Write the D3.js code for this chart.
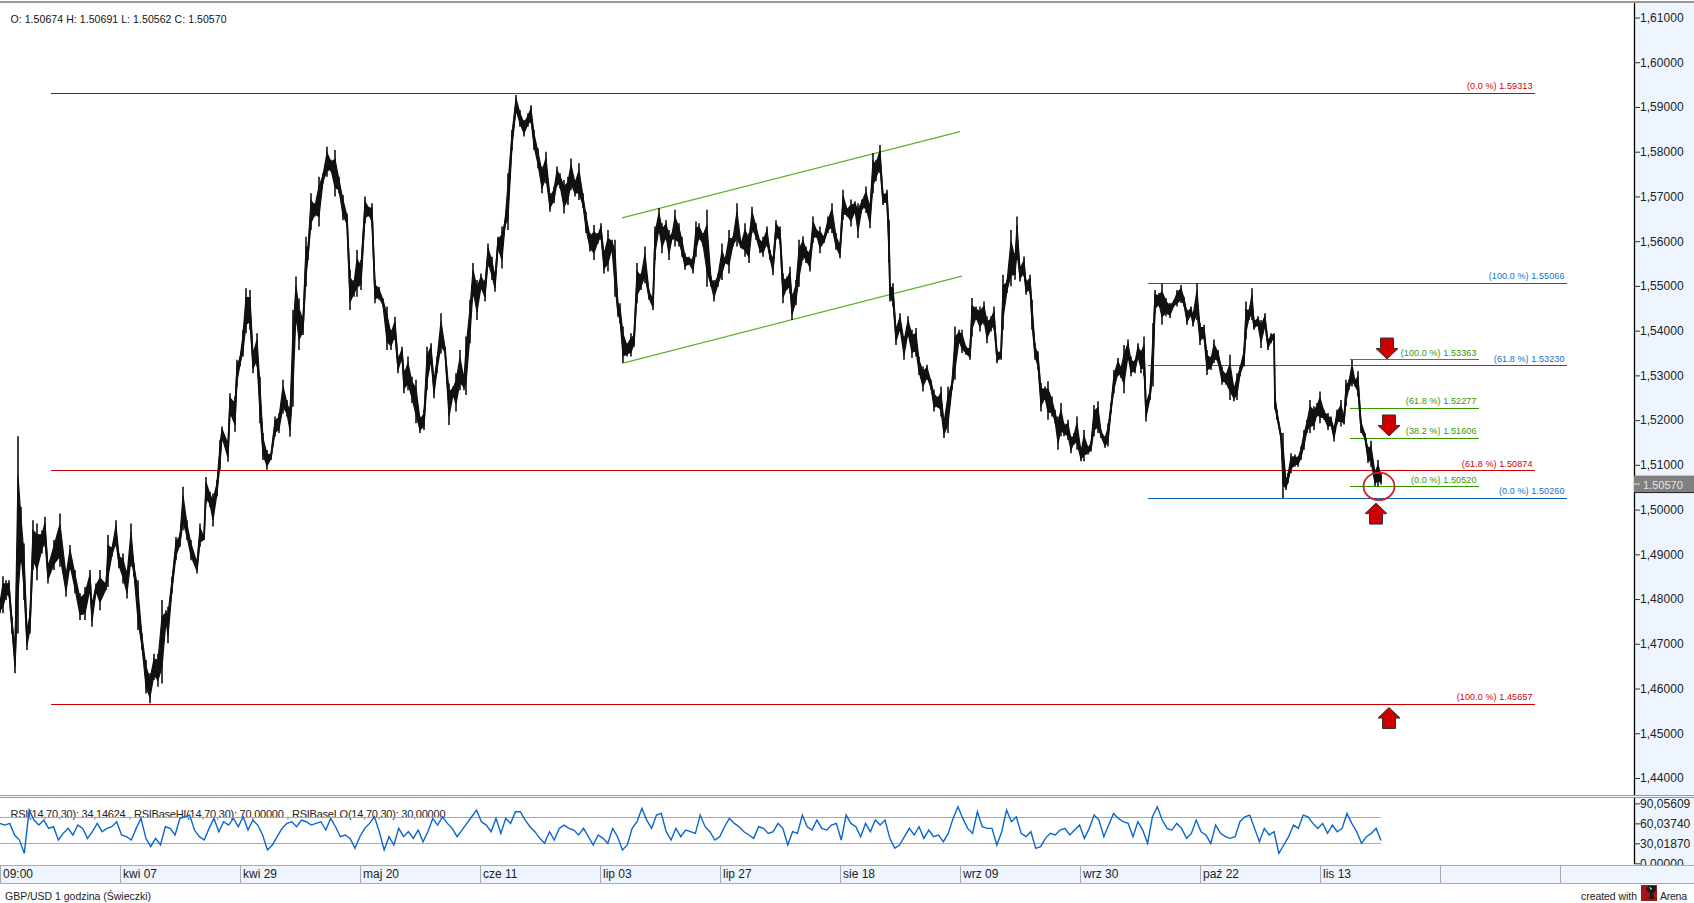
<!DOCTYPE html>
<html><head><meta charset="utf-8">
<script src="https://cdn.jsdelivr.net/npm/d3@7/dist/d3.min.js"></script>
<style>html,body{margin:0;padding:0;background:#fff;overflow:hidden}svg{display:block}text{font-family:"Liberation Sans",Arial,sans-serif}</style>
</head><body><svg id="c" width="1694" height="903"></svg>
<script>
// [bar number, high, low]
const barsMarApr = [[0,1.4798,1.4768],[6,1.4851,1.4768],[12,1.4842,1.4798],[18,1.4842,1.4805],[24,1.4760,1.4723],[30,1.4701,1.4634],[36,1.5164,1.4723],[42,1.5006,1.4880],[48,1.4924,1.4798],[54,1.4738,1.4686],[60,1.4775,1.4723],[66,1.4976,1.4865],[74,1.4969,1.4842],[84,1.4954,1.4902],[90,1.4984,1.4917],[96,1.4880,1.4835],[108,1.4932,1.4865],[120,1.4991,1.4872],[132,1.4865,1.4805],[140,1.4921,1.4865],[150,1.4865,1.4813],[160,1.4813,1.4753],[170,1.4827,1.4753],[180,1.4865,1.4813],[184,1.4798,1.4738],[192,1.4835,1.4813],[200,1.4865,1.4775],[212,1.4835,1.4820],[216,1.4943,1.4827],[224,1.4917,1.4895],[232,1.4976,1.4917],[238,1.4902,1.4869],[246,1.4902,1.4835],[254,1.4865,1.4801],[262,1.4969,1.4872],[268,1.4880,1.4850],[276,1.4842,1.4731],[284,1.4723,1.4686],[292,1.4664,1.4589],[300,1.4634,1.4567],[308,1.4678,1.4619],[316,1.4678,1.4604],[324,1.4798,1.4611],[332,1.4775,1.4746],[336,1.4783,1.4701],[344,1.4850,1.4813],[352,1.4939,1.4887],[360,1.4947,1.4917],[366,1.5051,1.4954],[374,1.4976,1.4932],[382,1.4932,1.4887],[394,1.4887,1.4857],[400,1.4969,1.4917],[408,1.4939,1.4932],[412,1.5073,1.5014],[420,1.5040,1.5006],[426,1.5036,1.4962],[434,1.5066,1.5029]];
const barsAprJun = [[440,1.5156,1.5089],[444,1.5186,1.5156],[456,1.5156,1.5107],[460,1.5260,1.5208],[470,1.5253,1.5174],[474,1.5335,1.5275],[480,1.5342,1.5320],[486,1.5402,1.5342],[492,1.5495,1.5394],[500,1.5491,1.5402],[506,1.5357,1.5305],[514,1.5394,1.5320],[520,1.5297,1.5193],[526,1.5171,1.5111],[534,1.5133,1.5089],[542,1.5126,1.5111],[550,1.5208,1.5163],[558,1.5215,1.5171],[566,1.5290,1.5215],[574,1.5245,1.5208],[580,1.5230,1.5163],[586,1.5446,1.5230],[592,1.5521,1.5416],[598,1.5472,1.5357],[606,1.5431,1.5390],[612,1.5610,1.5498],[616,1.5588,1.5558],[622,1.5707,1.5625],[630,1.5685,1.5655],[638,1.5744,1.5633],[646,1.5752,1.5729],[654,1.5811,1.5744],[662,1.5782,1.5755],[670,1.5804,1.5700],[678,1.5744,1.5707],[686,1.5703,1.5647],[694,1.5662,1.5633],[700,1.5536,1.5446],[708,1.5513,1.5476],[714,1.5580,1.5476],[722,1.5558,1.5491],[730,1.5700,1.5640],[738,1.5677,1.5655],[744,1.5685,1.5633],[750,1.5513,1.5461],[758,1.5498,1.5469],[766,1.5472,1.5454],[774,1.5454,1.5357],[782,1.5402,1.5357],[790,1.5431,1.5379],[796,1.5342,1.5305],[804,1.5364,1.5335],[808,1.5312,1.5260],[816,1.5342,1.5267],[824,1.5297,1.5238],[832,1.5290,1.5193],[840,1.5208,1.5171],[848,1.5223,1.5178],[854,1.5364,1.5267],[862,1.5372,1.5327],[868,1.5297,1.5249],[874,1.5342,1.5305],[882,1.5439,1.5349],[890,1.5364,1.5349],[898,1.5282,1.5189],[906,1.5275,1.5253],[912,1.5305,1.5219],[920,1.5357,1.5267],[928,1.5297,1.5267],[932,1.5387,1.5256],[940,1.5469,1.5372],[946,1.5551,1.5476],[954,1.5513,1.5424],[962,1.5528,1.5491],[970,1.5513,1.5465],[976,1.5595,1.5543],[984,1.5565,1.5513],[990,1.5528,1.5487],[996,1.5610,1.5580],[1004,1.5633,1.5539],[1010,1.5647,1.5633],[1016,1.5752,1.5625]];
const barsJunAug = [[1024,1.5849,1.5804],[1032,1.5927,1.5886],[1040,1.5893,1.5856],[1048,1.5871,1.5834],[1056,1.5886,1.5856],[1062,1.5904,1.5863],[1068,1.5849,1.5804],[1076,1.5808,1.5763],[1084,1.5767,1.5707],[1092,1.5800,1.5729],[1100,1.5707,1.5666],[1108,1.5722,1.5685],[1114,1.5767,1.5722],[1120,1.5752,1.5718],[1128,1.5737,1.5662],[1136,1.5744,1.5681],[1142,1.5785,1.5714],[1150,1.5737,1.5700],[1158,1.5774,1.5692],[1166,1.5707,1.5674],[1172,1.5666,1.5618],[1180,1.5618,1.5577],[1188,1.5636,1.5558],[1196,1.5618,1.5595],[1202,1.5640,1.5603],[1208,1.5580,1.5528],[1216,1.5625,1.5532],[1224,1.5603,1.5580],[1230,1.5603,1.5476],[1236,1.5461,1.5431],[1240,1.5461,1.5416],[1246,1.5409,1.5327],[1254,1.5372,1.5342],[1262,1.5394,1.5342],[1268,1.5394,1.5364],[1274,1.5551,1.5461],[1282,1.5528,1.5491],[1290,1.5588,1.5506],[1298,1.5491,1.5469],[1306,1.5476,1.5446],[1310,1.5633,1.5558],[1318,1.5674,1.5618],[1324,1.5640,1.5573],[1332,1.5647,1.5603],[1338,1.5625,1.5558],[1344,1.5618,1.5603],[1350,1.5670,1.5588],[1358,1.5640,1.5588],[1364,1.5610,1.5565],[1370,1.5573,1.5536],[1378,1.5565,1.5547],[1386,1.5565,1.5528],[1392,1.5644,1.5565],[1398,1.5640,1.5603],[1406,1.5618,1.5588],[1414,1.5670,1.5498],[1422,1.5521,1.5498],[1428,1.5513,1.5465],[1436,1.5528,1.5498],[1444,1.5595,1.5513],[1450,1.5558,1.5551],[1458,1.5625,1.5528],[1466,1.5610,1.5588],[1474,1.5685,1.5588],[1482,1.5595,1.5584],[1490,1.5640,1.5565],[1498,1.5618,1.5551],[1504,1.5677,1.5618],[1512,1.5640,1.5603],[1520,1.5603,1.5573],[1526,1.5610,1.5565],[1534,1.5633,1.5588],[1540,1.5580,1.5558],[1546,1.5565,1.5524],[1552,1.5647,1.5603],[1560,1.5633,1.5595],[1566,1.5528,1.5461],[1574,1.5521,1.5491],[1580,1.5543,1.5483],[1584,1.5483,1.5424],[1592,1.5513,1.5457],[1598,1.5603,1.5498]];
const barsAugOct = [[1606,1.5611,1.5558],[1612,1.5588,1.5551],[1620,1.5581,1.5532],[1626,1.5655,1.5596],[1634,1.5625,1.5607],[1640,1.5633,1.5573],[1648,1.5611,1.5596],[1656,1.5655,1.5618],[1664,1.5685,1.5618],[1672,1.5618,1.5581],[1680,1.5596,1.5562],[1686,1.5715,1.5648],[1694,1.5674,1.5655],[1702,1.5693,1.5633],[1710,1.5689,1.5663],[1716,1.5685,1.5607],[1724,1.5693,1.5670],[1732,1.5722,1.5663],[1740,1.5685,1.5629],[1746,1.5797,1.5707],[1752,1.5782,1.5734],[1760,1.5815,1.5752],[1766,1.5707,1.5681],[1774,1.5715,1.5681],[1778,1.5648,1.5551],[1780,1.5506,1.5465],[1786,1.5506,1.5454],[1792,1.5409,1.5368],[1800,1.5439,1.5398],[1808,1.5387,1.5335],[1816,1.5432,1.5387],[1824,1.5402,1.5339],[1832,1.5406,1.5342],[1838,1.5342,1.5301],[1846,1.5320,1.5264],[1854,1.5324,1.5290],[1862,1.5290,1.5268],[1868,1.5268,1.5219],[1876,1.5253,1.5227],[1882,1.5275,1.5208],[1888,1.5201,1.5160],[1896,1.5275,1.5171],[1904,1.5287,1.5268],[1910,1.5409,1.5290],[1918,1.5402,1.5372],[1924,1.5402,1.5350],[1932,1.5365,1.5346],[1940,1.5365,1.5335],[1944,1.5473,1.5387],[1952,1.5454,1.5424],[1960,1.5454,1.5398],[1968,1.5465,1.5413],[1974,1.5432,1.5372],[1982,1.5432,1.5398],[1988,1.5454,1.5402],[1994,1.5357,1.5327],[2002,1.5357,1.5335],[2006,1.5525,1.5402],[2014,1.5514,1.5484],[2022,1.5625,1.5499],[2030,1.5573,1.5514],[2034,1.5655,1.5558],[2040,1.5544,1.5510],[2048,1.5566,1.5521],[2052,1.5514,1.5480],[2060,1.5525,1.5484],[2064,1.5469,1.5402],[2070,1.5372,1.5335],[2076,1.5354,1.5313],[2082,1.5283,1.5219],[2090,1.5275,1.5245],[2096,1.5287,1.5201],[2104,1.5253,1.5208],[2110,1.5223,1.5193],[2116,1.5208,1.5134],[2122,1.5238,1.5164],[2128,1.5193,1.5164],[2136,1.5201,1.5156],[2142,1.5164,1.5126],[2148,1.5171,1.5145],[2154,1.5208,1.5134],[2162,1.5134,1.5108],[2168,1.5178,1.5108],[2176,1.5141,1.5123],[2182,1.5152,1.5130],[2188,1.5234,1.5164],[2196,1.5242,1.5171],[2202,1.5178,1.5160],[2210,1.5164,1.5138],[2216,1.5193,1.5141],[2222,1.5238,1.5216]];
const barsOctNov = [[2228,1.5312,1.5260],[2236,1.5339,1.5298],[2242,1.5320,1.5294],[2248,1.5368,1.5260],[2256,1.5380,1.5335],[2262,1.5342,1.5298],[2270,1.5335,1.5305],[2276,1.5372,1.5335],[2282,1.5357,1.5305],[2288,1.5387,1.5298],[2292,1.5245,1.5197],[2300,1.5268,1.5245],[2306,1.5417,1.5275],[2310,1.5491,1.5439],[2318,1.5484,1.5454],[2324,1.5506,1.5413],[2332,1.5473,1.5432],[2340,1.5462,1.5428],[2348,1.5469,1.5454],[2354,1.5491,1.5454],[2362,1.5502,1.5462],[2368,1.5476,1.5454],[2374,1.5447,1.5413],[2382,1.5454,1.5432],[2386,1.5439,1.5409],[2394,1.5506,1.5424],[2400,1.5417,1.5368],[2408,1.5413,1.5380],[2414,1.5357,1.5301],[2422,1.5342,1.5312],[2428,1.5380,1.5327],[2436,1.5357,1.5327],[2444,1.5320,1.5279],[2452,1.5305,1.5279],[2460,1.5346,1.5245],[2468,1.5275,1.5242],[2474,1.5305,1.5245],[2480,1.5320,1.5298],[2488,1.5361,1.5320],[2492,1.5465,1.5380],[2498,1.5447,1.5424],[2504,1.5495,1.5424],[2508,1.5424,1.5402],[2516,1.5432,1.5409],[2522,1.5424,1.5361],[2530,1.5439,1.5406],[2536,1.5380,1.5357],[2542,1.5394,1.5372],[2548,1.5394,1.5380],[2550,1.5260,1.5223],[2554,1.5223,1.5201],[2562,1.5171,1.5156],[2566,1.5171,1.5026],[2572,1.5067,1.5044],[2576,1.5082,1.5059],[2582,1.5126,1.5082],[2590,1.5123,1.5096],[2596,1.5119,1.5096],[2602,1.5141,1.5111],[2608,1.5178,1.5134],[2614,1.5201,1.5171],[2620,1.5245,1.5171],[2628,1.5231,1.5178],[2634,1.5238,1.5208],[2640,1.5264,1.5193],[2648,1.5223,1.5201],[2656,1.5216,1.5178],[2662,1.5208,1.5186],[2668,1.5186,1.5152],[2674,1.5223,1.5190],[2682,1.5245,1.5186],[2688,1.5208,1.5190],[2692,1.5290,1.5231],[2698,1.5290,1.5268],[2704,1.5335,1.5275],[2710,1.5290,1.5275],[2716,1.5309,1.5253],[2722,1.5201,1.5171],[2730,1.5171,1.5156],[2736,1.5141,1.5104],[2742,1.5154,1.5096],[2750,1.5089,1.5052],[2756,1.5111,1.5052],[2762,1.5082,1.5056]];

const rsiFirst = [60,57.5,60,42.5,35,15,80,65,57.5,65,52.5,55,35,45,52.5,42.5,57.5,52.5,37.5,47.5,60,47.5,52.5,55,62.5,42.5,40,35,52.5,67.5,37.5,25,37.5,27.5,55,52.5,42.5,67.5,70,72.5,50,40,35,52.5,67.5,47.5,62.5,57.5,67.5,55,70,50,65,57.5,42.5,20,27.5,40,52.5,60,62.5,55,65,62.5,57.5,60,62.5,50,67.5,55,40,42.5,37.5,22.5,40,52.5,60,70,47.5,20,40,27.5,52.5,40,47.5,37.5,50,32.5,47.5,67.5,57.5,70,60,52.5,40,50,60,70,80,62.5,57.5,47.5,67.5,45,67.5,60,77.5,77.5,65,55,47.5,37.5,30,47.5,35,52.5,57.5,52.5,50,42.5,52.5,40,27.5,42.5,37.5,30,52.5,40,20,27.5,52.5,62.5,82.5,65,52.5,72.5,75,47.5,35,52.5,40,50,47.5,45,72.5];
const rsiSecond = [55,47.5,35,40,55,67.5,60,55,47.5,42.5,37.5,55,52.5,45,47.5,60,52.5,27.5,47.5,45,72.5,55,50,65,52.5,50,57.5,60,35,72.5,60,55,40,60,47.5,65,57.5,65,37.5,22.5,27.5,40,52.5,42.5,55,37.5,50,40,42.5,32.5,45,67.5,85,67.5,52.5,45,77.5,55,52.5,52.5,27.5,47.5,80,62.5,70,45,40,47.5,22.5,25,37.5,45,42.5,50,52.5,42.5,50,57.5,37.5,52.5,72.5,65,40,57.5,75,67.5,62.5,60,40,62.5,50,30,70,85,65,52.5,50,60,52.5,37.5,45,65,47.5,42.5,30,57.5,45,40,37.5,40,62.5,70,72.5,52.5,32.5,52.5,42.5,47.5,15,27.5,40,57.5,52.5,72.5,70,60,52.5,60,45,57.5,47.5,52.5,75,60,47.5,30,40,45,52.5,34.15];

const priceTicks = [1.61,1.60,1.59,1.58,1.57,1.56,1.55,1.54,1.53,1.52,1.51,1.50,1.49,1.48,1.47,1.46,1.45,1.44];
const rsiTicks = [90.05609,60.0374,30.0187,0];
const rsiBands = [70,30];
const timeLabels = ["09:00","kwi 07","kwi 29","maj 20","cze 11","lip 03","lip 27","sie 18","wrz 09","wrz 30","paź 22","lis 13","",""];
const redFibPrices = [1.59313,1.50874,1.45657];
const redFibNames = ["(0.0 %)","(61.8 %)","(100.0 %)"];
const blueFibPrices = [1.55066,1.53230,1.50260];
const blueFibNames = ["(100.0 %)","(61.8 %)","(0.0 %)"];
const greenFibPrices = [1.53363,1.52277,1.51606,1.50520];
const greenFibNames = ["(100.0 %)","(61.8 %)","(38.2 %)","(0.0 %)"];
const fibBarRanges = {red:[102,3070],blue:[2296,3134],green:[2700,2958]};
const channelUpper = [[1244,1.5652],[1920,1.5845]];
const channelLower = [[1248,1.5328],[1924,1.5522]];
const arrowsDown = [[2774,1.5360],[2778,1.5188]];
const arrowsUp = [[2752,1.4991],[2778,1.4534]];
const circleMark = [2758,1.50520];
const lastPrice = 1.50570;

const bars = [...barsMarApr,...barsAprJun,...barsJunAug,...barsAugOct,...barsOctNov];
const rsi = [...rsiFirst,...rsiSecond];
const lastBar = bars[bars.length-1][0];

const W=1694, H=903, axisX=1634;
const svg = d3.select("#c");
const x = d3.scaleLinear().domain([0,3268]).range([0,axisX]);
const y = d3.scaleLinear().domain([1.44,1.61]).range([778,17.5]);
const yR = d3.scaleLinear().domain([0,90.05609]).range([863.3,803.4]);
const comma = d=>d3.format(".5f")(d).replace(".",",");

svg.append("rect").attr("x",axisX).attr("y",3).attr("width",W-axisX).attr("height",862).attr("fill","#eef5fe");
svg.append("rect").attr("x",0).attr("y",1).attr("width",W).attr("height",2).attr("fill","#999");

const plot = svg.append("g");

function fib(prices,names,range,lineCol,textCol){
  const g=plot.append("g");
  g.selectAll("line").data(prices).join("line")
    .attr("x1",x(range[0])).attr("x2",x(range[1]))
    .attr("y1",d=>Math.round(y(d))+.5).attr("y2",d=>Math.round(y(d))+.5)
    .attr("stroke",lineCol).attr("stroke-width",1).attr("shape-rendering","crispEdges");
  g.selectAll("text").data(prices).join("text")
    .attr("x",x(range[1])-2.5).attr("y",d=>y(d)-3.5).attr("text-anchor","end")
    .attr("font-size",9).attr("fill",textCol).attr("letter-spacing",".1")
    .text((d,i)=>names[i]+" "+d.toFixed(5));
}
fib(redFibPrices,redFibNames,fibBarRanges.red,"#cc0000","#cc0000");
fib(blueFibPrices,blueFibNames,fibBarRanges.blue,"#0a5fb8","#1070d0");
fib(greenFibPrices,greenFibNames,fibBarRanges.green,"#339900","#339900");

const chLine=d3.line().x(d=>x(d[0])).y(d=>y(d[1]));
[channelUpper,channelLower].forEach(c=>plot.append("path").attr("d",chLine(c)).attr("fill","none").attr("stroke","#5cb030").attr("stroke-width",1.3));

// price series: solid core band plus high-low wicks
plot.append("path").attr("fill","#111").attr("stroke","#111").attr("stroke-width",1.2)
  .attr("d",d3.area().x(d=>x(d[0])).y0(d=>y(d[2]+(d[1]-d[2])*.2)).y1(d=>y(d[1]-(d[1]-d[2])*.2))(bars));
plot.append("path").attr("fill","none").attr("stroke","#111").attr("stroke-width",1.8).attr("stroke-linejoin","bevel")
  .attr("d",d3.line().x(d=>x(d[0])).y(d=>y((d[1]+d[2])/2))(bars));
plot.append("g").selectAll("line").data(bars).join("line")
  .attr("x1",d=>x(d[0])).attr("x2",d=>x(d[0])).attr("y1",d=>y(d[1])).attr("y2",d=>y(d[2]))
  .attr("stroke","#111").attr("stroke-width",1.6);

plot.append("ellipse").attr("cx",x(circleMark[0])).attr("cy",y(circleMark[1])).attr("rx",15.5).attr("ry",13.7)
  .attr("fill","none").attr("stroke","#cc2222").attr("stroke-width",1.8);

const arrowD="M-6.5,-10.5H6.5V0H11L0,10.5L-11,0H-6.5Z";
function arrows(list,rot){
  plot.append("g").selectAll("path").data(list).join("path")
   .attr("transform",d=>`translate(${x(d[0])},${y(d[1])}) rotate(${rot})`)
   .attr("d",arrowD).attr("fill","#cc0000").attr("stroke","#333").attr("stroke-width",1);
}
arrows(arrowsDown,0); arrows(arrowsUp,180);

svg.append("text").attr("x",10.5).attr("y",23).attr("font-size",10.5).attr("fill","#111").attr("textLength",216).attr("lengthAdjust","spacing")
  .text("O: 1.50674 H: 1.50691 L: 1.50562 C: 1.50570");

const yAxis=d3.axisRight(y).tickValues(priceTicks).tickFormat(comma).tickSize(6).tickPadding(0);
const gy=svg.append("g").attr("transform",`translate(${axisX},0)`).call(yAxis);
gy.select(".domain").attr("d",`M0.5,3V795`).attr("stroke","#000").attr("stroke-width",1.3);
gy.selectAll(".tick line").attr("stroke","#333");
gy.selectAll("text").attr("font-size",12).attr("font-family",'"Liberation Sans",Arial,sans-serif').attr("fill","#222").attr("letter-spacing",".03");

const lastG=svg.append("g");
lastG.append("rect").attr("x",axisX).attr("y",y(lastPrice)-8.5).attr("width",W-axisX).attr("height",17).attr("fill","#808080");
lastG.append("line").attr("x1",axisX).attr("x2",W).attr("y1",y(lastPrice)+8.5).attr("y2",y(lastPrice)+8.5).attr("stroke","#222");
lastG.append("line").attr("x1",axisX).attr("x2",axisX+6).attr("y1",y(lastPrice)).attr("y2",y(lastPrice)).attr("stroke","#ddd");
lastG.append("text").attr("x",axisX+9).attr("y",y(lastPrice)+4.5).attr("font-size",11).attr("fill","#e4e4e4").text(lastPrice.toFixed(5));

svg.append("rect").attr("x",0).attr("y",795).attr("width",W).attr("height",1).attr("fill","#999");
svg.append("rect").attr("x",0).attr("y",797).attr("width",W).attr("height",1).attr("fill","#999");

const rsiX=(d,i)=>x(i*lastBar/(rsi.length-1));
svg.append("text").attr("x",10.5).attr("y",818).attr("font-size",11).attr("fill","#222").attr("textLength",435).attr("lengthAdjust","spacing")
  .text("RSI(14,70,30): 34,14624 , RSIBaseHI(14,70,30): 70,00000 , RSIBaseLO(14,70,30): 30,00000");
svg.append("g").selectAll("line").data(rsiBands).join("line")
  .attr("x1",x(0)).attr("x2",x(lastBar)).attr("y1",d=>Math.round(yR(d))+.5).attr("y2",d=>Math.round(yR(d))+.5)
  .attr("stroke","#aaa").attr("stroke-width",1).attr("shape-rendering","crispEdges");
svg.append("path").attr("fill","none").attr("stroke","#0a66cc").attr("stroke-width",1.4)
  .attr("d",d3.line().x(rsiX).y(d=>yR(d))(rsi));
const yRAxis=d3.axisRight(yR).tickValues(rsiTicks).tickFormat(comma).tickSize(6).tickPadding(0);
const gyR=svg.append("g").attr("transform",`translate(${axisX},0)`).call(yRAxis);
gyR.select(".domain").attr("d",`M0.5,798V864`).attr("stroke","#000").attr("stroke-width",1.3);
gyR.selectAll(".tick line").attr("stroke","#333");
gyR.selectAll("text").attr("font-size",12).attr("font-family",'"Liberation Sans",Arial,sans-serif').attr("fill","#222").attr("letter-spacing",".03");

svg.append("rect").attr("x",0).attr("y",865).attr("width",W).attr("height",18).attr("fill","#eef5fe");
const xAxis=d3.axisBottom(x).tickValues(timeLabels.map((d,i)=>i*240)).tickFormat((d,i)=>timeLabels[i]).tickSize(18).tickPadding(0);
const gx=svg.append("g").attr("transform","translate(0,865)").call(xAxis);
gx.select(".domain").remove();
gx.selectAll(".tick line").attr("stroke","#aaa").attr("shape-rendering","crispEdges");
gx.selectAll("text").attr("text-anchor","start").attr("x",2.5).attr("y",13).attr("dy",0).attr("font-size",12)
  .attr("font-family",'"Liberation Sans",Arial,sans-serif').attr("fill","#222");
[865,883].forEach(v=>svg.append("line").attr("x1",0).attr("x2",W).attr("y1",v+.5).attr("y2",v+.5).attr("stroke","#aaa").attr("shape-rendering","crispEdges"));
svg.append("line").attr("x1",.5).attr("x2",.5).attr("y1",865).attr("y2",883).attr("stroke","#aaa");

svg.append("text").attr("x",5).attr("y",900).attr("font-size",10.5).attr("fill","#222").attr("textLength",146).attr("lengthAdjust","spacing").text("GBP/USD 1 godzina (Świeczki)");
svg.append("text").attr("x",1581).attr("y",900).attr("font-size",10.5).attr("fill","#222").attr("textLength",56).attr("lengthAdjust","spacing").text("created with");
svg.append("text").attr("x",1660).attr("y",900).attr("font-size",10.5).attr("fill","#222").attr("textLength",27).attr("lengthAdjust","spacing").text("Arena");
const logo=svg.append("g").attr("transform","translate(1641,885)");
logo.append("rect").attr("width",16).attr("height",16).attr("fill","#a01818");
logo.append("path").attr("d","M7,1H15V6L12,8L13,14H8L9,8L5,5Z").attr("fill","#1a1a1a");
logo.append("path").attr("d","M8,2L11,3L10,5Z").attr("fill","#ddd");
</script></body></html>
